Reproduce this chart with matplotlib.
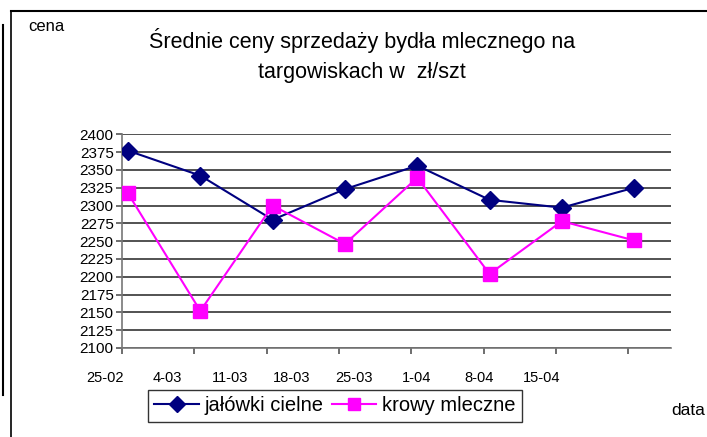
import matplotlib.pyplot as plt
from matplotlib.lines import Line2D

plt.rcParams['font.family'] = ['Liberation Sans', 'DejaVu Sans']

dates = ['25-02', '4-03', '11-03', '18-03', '25-03', '1-04', '8-04', '15-04']
jalowki = [2377, 2342, 2280, 2323, 2356, 2308, 2297, 2325]
krowy = [2317, 2152, 2300, 2246, 2339, 2204, 2278, 2251]

fig = plt.figure(figsize=(7.07, 4.37), dpi=100)
ax = fig.add_axes([0.1726, 0.2037, 0.7765, 0.489])

x = list(range(len(dates)))
ax.plot(x, jalowki, color='#000080', lw=1.5, marker='D', ms=9.5,
        label='jałówki cielne', zorder=3)
ax.plot(x, krowy, color='#FF00FF', lw=1.5, marker='s', ms=9.5,
        label='krowy mleczne', zorder=3)

ax.set_ylim(2100, 2400)
ax.set_yticks(range(2100, 2401, 25))
ax.set_xlim(-0.083, 7.51)
ax.set_xticks([k - 0.083 for k in x])
ax.set_xticklabels([])
ax.grid(axis='y', color='#444444', lw=1.3)
ax.set_axisbelow(True)
for s in ['top', 'right']:
    ax.spines[s].set_visible(False)
for s in ['left', 'bottom']:
    ax.spines[s].set_color('#777777')
    ax.spines[s].set_linewidth(1.2)
ax.tick_params(axis='both', color='#555555', length=4, width=1.2)
ax.tick_params(axis='y', labelsize=11, pad=2)

# x labels are spaced differently from the ticks in the original
for i, d in enumerate(dates):
    ax.text(-0.318 + 0.862 * i, -0.14, d, transform=ax.get_xaxis_transform(),
            ha='center', va='center', fontsize=10.5)

fig.text(0.512, 0.908, 'Średnie ceny sprzedaży bydła mlecznego na',
         ha='center', va='center', fontsize=15.5)
fig.text(0.512, 0.835, 'targowiskach w  zł/szt',
         ha='center', va='center', fontsize=15.5)
fig.text(0.065, 0.94, 'cena', ha='center', va='center', fontsize=12)
fig.text(0.974, 0.06, 'data', ha='center', va='center', fontsize=12.5)

handles = [
    Line2D([], [], color='#000080', lw=1.5, marker='D', ms=8),
    Line2D([], [], color='#FF00FF', lw=1.5, marker='s', ms=9),
]
leg = fig.legend(handles, ['jałówki cielne', 'krowy mleczne'], ncol=2,
                 loc='center', bbox_to_anchor=(0.474, 0.071), fontsize=14.5,
                 frameon=True, fancybox=False, handlelength=2.2,
                 handletextpad=0.3, columnspacing=0.4, borderpad=0.3)
leg.get_frame().set_edgecolor('black')
leg.get_frame().set_linewidth(1.0)

# outer frame lines
fig.add_artist(Line2D([11 / 707, 1], [1 - 11 / 437] * 2, color='black', lw=1.5))
fig.add_artist(Line2D([11 / 707] * 2, [0, 1 - 11 / 437], color='black', lw=1.2))
fig.add_artist(Line2D([3 / 707] * 2, [1 - 395 / 437, 1 - 25 / 437], color='black', lw=1.5))

fig.savefig('out.png', dpi=100)
